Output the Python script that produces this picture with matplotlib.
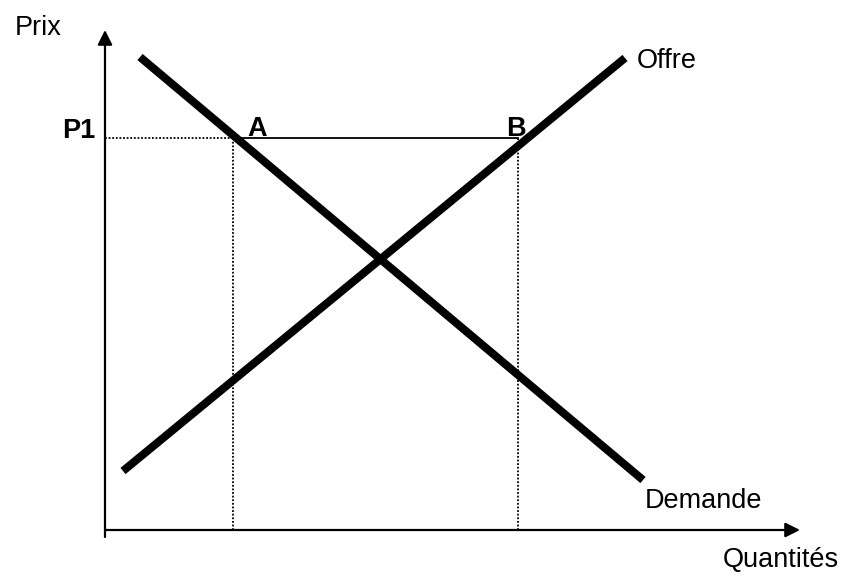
import matplotlib
matplotlib.use('Agg')
import matplotlib.pyplot as plt

plt.rcParams['font.family'] = ['Liberation Sans', 'DejaVu Sans']

# offre / demande (unites arbitraires)
demande_q = [3.5, 53.8]
demande_p = [47.3, 5.0]
offre_q = [1.8, 52.0]
offre_p = [5.9, 47.2]

p1 = 39.2
q_a = 12.8
q_b = 41.3

fig = plt.figure(figsize=(8.54, 5.81), dpi=100)
ax = fig.add_axes([0, 0, 1, 1])
ax.set_xlim(-10.5, 74.9)
ax.set_ylim(-5.1, 53.0)
ax.axis('off')

# axes avec fleches
arrow = dict(arrowstyle='-|>', lw=1.6, color='black', mutation_scale=22,
             shrinkA=0, shrinkB=0)
ax.annotate('', xy=(69.5, 0), xytext=(0, 0), arrowprops=arrow)
ax.annotate('', xy=(0, 50.0), xytext=(0, -0.7), arrowprops=arrow)

# courbes
ax.plot(demande_q, demande_p, color='black', lw=5.8, solid_capstyle='butt')
ax.plot(offre_q, offre_p, color='black', lw=5.8, solid_capstyle='butt')

# niveau P1
ax.plot([0, q_a], [p1, p1], color='black', lw=1.3, dashes=(1, 1))
ax.plot([q_a, q_b], [p1, p1], color='black', lw=1.3)
ax.plot([q_a, q_a], [0, p1], color='black', lw=1.3, dashes=(1, 1))
ax.plot([q_b, q_b], [0, p1], color='black', lw=1.3, dashes=(1, 1))

fs = 19.5
ax.text(-9.0, 49.5, 'Prix', fontsize=fs, ha='left', va='baseline')
ax.text(-4.3, p1, 'P1', fontsize=fs, fontweight='bold', ha='left', va='baseline')
ax.text(q_a + 1.4, p1 + 0.2, 'A', fontsize=fs, fontweight='bold', ha='left', va='baseline')
ax.text(q_b - 1.2, p1 + 0.2, 'B', fontsize=fs, fontweight='bold', ha='left', va='baseline')
ax.text(53.2, 46.2, 'Offre', fontsize=fs, ha='left', va='baseline')
ax.text(54.0, 2.2, 'Demande', fontsize=fs, ha='left', va='baseline')
ax.text(61.8, -3.7, 'Quantités', fontsize=fs, ha='left', va='baseline')

fig.savefig('out.png', dpi=100)
